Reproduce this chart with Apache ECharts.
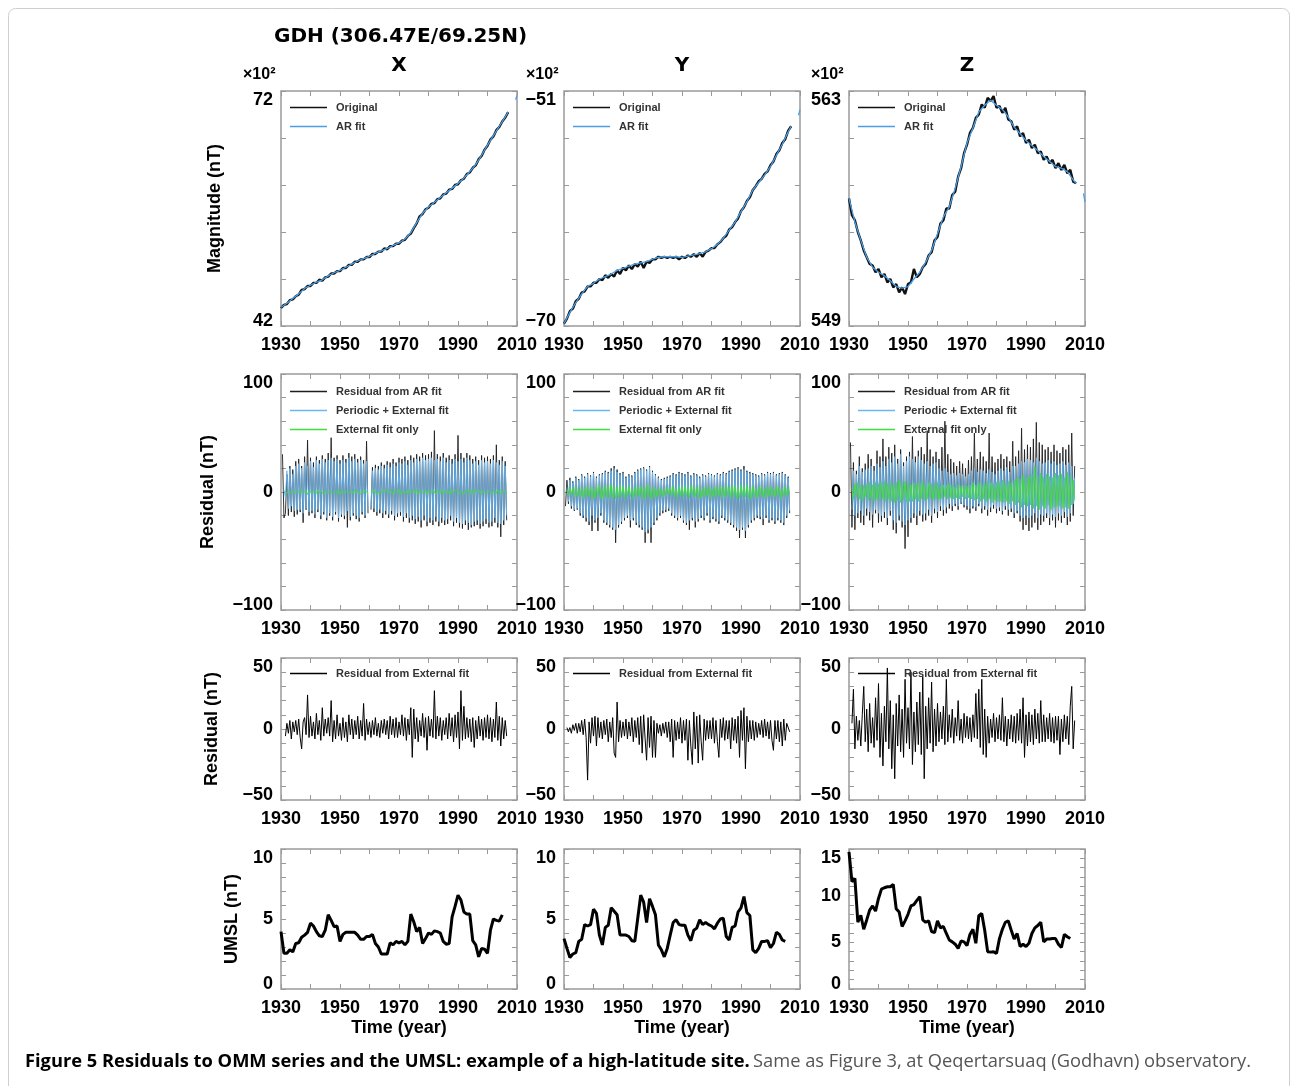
<!DOCTYPE html>
<html><head><meta charset="utf-8">
<script src="https://cdn.jsdelivr.net/npm/echarts@6/dist/echarts.min.js"></script>
<style>html,body{margin:0;padding:0;background:#fff}#c{width:1292px;height:1086px}</style>
</head><body><div id="c"></div>
<script>
// ---------------- DATA ----------------
const xTickLabels = [1930, 1950, 1970, 1990, 2010];

// Row 1: magnitudes (x10^2 nT)
const arYears = [1930,1932,1934,1936,1938,1940,1942,1944,1946,1948,1950,1952,1954,1956,1958,1960,1962,1964,1966,1968,1970,1972,1974,1976,1978,1980,1982,1984,1986,1988,1990,1992,1994,1996,1998,2000,2002,2004,2006,2007,2008,2009.5,2010];
const origX = [44.3,44.7,44.8,45.3,45.4,45.8,46.0,46.6,46.7,47.1, 47.1,47.5,47.5,47.9,47.8,48.2,48.3,48.7,48.7,49.0, 49.0,49.4,49.4,49.8,49.8,50.2,50.2,50.5,50.5,50.8, 50.8,51.2,51.2,51.5,51.5,51.9,51.8,52.2,52.2,52.5, 52.5,52.9,53.0,53.5,53.8,54.5,55.1,56.0,56.3,56.9, 57.1,57.6,57.7,58.2,58.3,58.8,58.9,59.4,59.5,60.0, 60.1,60.6,60.8,61.4,61.6,62.2,62.5,63.3,63.7,64.5, 65.0,65.8,66.2,67.0,67.4,68.1,68.6,69.3];
const arX = [44.4,44.9,45.5,46.1,46.8,47.2,47.6,47.9,48.4,48.8,49.1,49.5,49.9,50.3,50.6,50.9,51.3,51.6,51.9,52.3,52.6,53.1,53.9,55.2,56.4,57.2,57.8,58.4,59.0,59.6,60.2,60.9,61.7,62.6,63.8,65.1,66.3,67.5,68.7,69.3,null,70.9,71.4];
const origY = [-69.8,-69.4,-68.8,-68.6,-68.0,-67.8,-67.3,-67.2,-66.8,-66.8, -66.5,-66.5,-66.2,-66.3,-65.9,-66.1,-65.8,-66.0,-65.5,-65.8, -65.3,-65.5,-65.1,-65.4,-65.0,-65.2,-64.8,-65.3,-64.8,-64.9, -64.6,-64.6,-64.4,-64.5,-64.4,-64.5,-64.4,-64.5,-64.4,-64.6, -64.4,-64.5,-64.3,-64.4,-64.2,-64.4,-64.1,-64.4,-64.0,-63.9, -63.7,-63.7,-63.4,-63.2,-62.9,-62.7,-62.2,-62.0,-61.6,-61.3, -60.7,-60.4,-59.9,-59.6,-59.0,-58.7,-58.3,-58.1,-57.7,-57.5, -57.0,-56.7,-56.1,-55.8,-55.2,-54.9,-54.2,-53.85];
const arY = [-69.8,-68.9,-68.1,-67.4,-66.8,-66.55,-66.2,-66.0,-65.8,-65.5,-65.35,-65.15,-65.0,-64.9,-64.8,-64.6,-64.45,-64.4,-64.4,-64.4,-64.45,-64.35,-64.25,-64.15,-64.0,-63.75,-63.4,-62.9,-62.25,-61.6,-60.75,-59.95,-59.0,-58.4,-57.8,-57.1,-56.2,-55.3,-54.3,-53.85,null,-52.96,-52.5];
const origZ = [556.6,555.6,555.3,554.6,554.1,553.5,553.1,552.7,552.6,552.2, 552.4,551.9,552.1,551.6,551.8,551.3,551.5,551.0,551.3,550.9, 551.5,551.6,552.4,551.9,552.1,552.5,552.7,553.2,553.4,554.1, 554.3,555.1,555.3,556.0,556.0,556.8,557.0,557.9,558.4,559.3, 559.8,560.5,560.8,561.4,561.6,562.2,562.0,562.6,562.4,562.7, 562.0,562.1,561.7,562.0,561.3,561.2,560.7,560.9,560.3,560.5, 559.9,560.1,559.6,559.8,559.3,559.4,558.9,559.1,558.7,558.9, 558.4,558.7,558.3,558.6,558.1,558.3,557.6,557.5];
const arZ = [556.6,555.2,554.1,553.1,552.5,552.2,552.0,551.7,551.35,551.25,551.35,551.8,552.2,552.8,553.5,554.5,555.5,556.1,557.2,558.5,559.9,560.8,561.75,562.15,562.45,562.15,561.9,561.45,560.85,560.45,560.05,559.75,559.45,559.1,558.8,558.5,558.4,558.2,557.7,557.5,null,556.9,556.4];

// Row 2: residuals (nT), half-year samples from 1930.5 to 2006.5
const resX_ar = [32,
 -22,-18,15,-20,22,-17,19,-21,26,-19,
 28,-17,22,-26,30,-15,44,-20,29,-18,
 25,-22,30,-17,27,-23,31,-19,28,-24,
 33,-20,46,-24,29,-19,31,-25,27,-21,
 31,-23,28,-30,33,-24,30,-20,32,-23,
 28,-25,30,-19,27,-22,43,-18,null,-15,
 21,-17,23,-20,22,-18,25,-22,23,-19,
 26,-22,25,-19,28,-24,25,-21,29,-20,
 28,-25,30,-22,27,-26,31,-24,29,-27,
 32,-25,30,-30,33,-24,31,-29,32,-26,
 34,-28,52,-25,32,-29,30,-26,33,-28,
 29,-27,31,-24,28,-29,32,-26,48,-30,
 33,-31,29,-28,33,-32,31,-30,28,-29,
 30,-28,27,-31,31,-29,29,-27,30,-30,
 28,-29,31,-26,40,-30,27,-38,30,-28,
 26,-24];
const resX_per = [null,
 2,-5,18,-14,20,-12,15,-16,22,-15,
 24,-15,20,-18,25,-14,22,-17,26,-16,
 21,-19,27,-15,24,-20,28,-17,25,-22,
 27,-18,29,-21,26,-17,28,-22,24,-19,
 27,-20,25,-16,29,-21,26,-18,28,-20,
 25,-22,27,-17,24,-20,26,-15,null,-12,
 18,-14,20,-17,19,-15,22,-18,20,-16,
 23,-19,21,-16,24,-20,22,-18,25,-17,
 24,-21,26,-18,23,-22,27,-20,25,-23,
 28,-21,26,-24,29,-20,27,-25,28,-22,
 29,-24,27,-21,28,-25,26,-22,29,-24,
 25,-23,27,-20,24,-25,28,-22,26,-26,
 28,-27,25,-24,29,-26,27,-28,24,-25,
 26,-24,23,-27,27,-25,25,-23,26,-26,
 24,-25,27,-22,25,-26,23,-27,26,-24,
 22,-20];
const resX_ext = [null,
 0,1,-1,1,0,-1,1,0,-1,1,
 1,-1,2,0,-1,1,-2,1,0,-1,
 1,0,-1,2,-1,1,0,-2,1,0,
 -1,1,2,-1,0,1,-1,2,-2,1,
 0,-1,1,2,-1,0,1,-1,2,-1,
 1,0,-2,1,-1,2,0,-1,null,1,
 -1,2,1,-2,0,1,-1,2,0,-1,
 2,-1,1,0,-2,2,1,-1,2,-2,
 1,2,-1,1,-2,2,0,-1,2,-1,
 2,-2,1,2,-1,0,2,-2,1,1,
 -1,2,0,-2,2,1,-1,2,-2,1,
 2,-1,1,-2,2,0,-1,2,1,-2,
 1,2,-2,1,0,2,-1,1,-2,2,
 0,-1,2,1,-2,1,2,-1,0,1,
 2,-2,1,0,-1,2,1,-2,1,0,
 1,-1];
const resY_ar = [-12,
 10,-10,12,-14,9,-16,13,-15,11,-20,
 15,-22,13,-25,16,-28,14,-33,17,-26,
 13,-33,15,-20,16,-26,18,-28,17,-30,
 20,-32,22,-43,19,-30,16,-27,17,-24,
 13,-22,15,-30,14,-24,17,-28,19,-30,
 20,-32,21,-43,19,-35,22,-43,18,-28,
 15,-24,13,-20,11,-18,12,-17,13,-16,
 14,-20,16,-22,15,-24,17,-22,16,-26,
 15,-28,17,-32,14,-24,16,-30,15,-25,
 13,-22,15,-24,14,-20,16,-26,15,-23,
 14,-25,16,-27,15,-22,17,-24,16,-26,
 18,-28,19,-30,20,-33,21,-39,19,-32,
 22,-39,18,-30,17,-26,16,-24,15,-22,
 14,-23,16,-28,15,-22,17,-26,16,-24,
 17,-27,15,-24,16,-26,17,-28,15,-22,
 13,-18];
const resY_per = [null,
 4,-8,10,-12,8,-15,12,-14,10,-18,
 14,-20,12,-22,15,-25,13,-20,16,-24,
 12,-22,14,-18,15,-24,17,-26,16,-28,
 18,-30,20,-32,17,-28,15,-25,16,-22,
 12,-20,14,-24,13,-22,16,-26,18,-28,
 19,-30,20,-34,18,-32,21,-30,17,-26,
 14,-22,12,-18,10,-16,11,-15,12,-14,
 13,-18,15,-20,14,-22,16,-20,15,-24,
 14,-26,16,-24,13,-22,15,-25,14,-23,
 12,-20,14,-22,13,-18,15,-24,14,-21,
 13,-23,15,-25,14,-20,16,-22,15,-24,
 17,-26,18,-28,19,-30,20,-32,18,-30,
 19,-33,17,-28,16,-24,15,-22,14,-20,
 13,-21,15,-23,14,-20,16,-24,15,-22,
 16,-25,14,-22,15,-24,16,-26,14,-20,
 12,-16];
const resY_ext = [null,
 2,-3,4,-2,3,-4,5,-3,2,-4,
 4,-5,3,-4,5,-3,4,-6,3,-5,
 5,-4,6,-5,4,-6,5,-4,6,-5,
 6,-5,5,-6,4,-5,6,-4,5,-6,
 4,-3,5,-4,3,-5,4,-4,5,-3,
 5,-6,4,-5,6,-4,5,-6,4,-5,
 3,-4,4,-3,2,-4,3,-3,4,-2,
 4,-3,5,-4,3,-5,4,-3,5,-4,
 5,-4,4,-5,6,-3,5,-4,4,-5,
 4,-5,3,-4,5,-3,4,-5,3,-4,
 5,-4,4,-3,5,-5,4,-4,6,-3,
 4,-5,6,-4,5,-6,4,-5,6,-4,
 5,-4,6,-5,4,-6,5,-4,3,-5,
 4,-3,5,-4,3,-5,4,-3,5,-4,
 3,-4,5,-3,4,-5,3,-4,5,-3,
 3,-2];
const resZ_ar = [42,
 -30,25,-32,18,-22,30,-26,20,-28,24,
 -20,32,-24,28,-30,22,-18,35,-26,30,
 -25,45,-22,30,-28,38,-20,33,-32,40,
 -35,28,-24,36,-30,25,-48,30,-38,34,
 -26,47,-22,30,-28,35,-20,38,-25,32,
 -24,52,-20,36,-26,30,-18,34,-22,28,
 -16,38,-20,60,-18,32,-14,28,-16,25,
 -12,22,-15,26,-10,24,-13,20,-15,27,
 -18,30,-14,50,-16,28,-12,34,-18,30,
 -15,26,-20,50,-17,30,-14,25,-18,28,
 -16,32,-19,28,-15,30,-20,26,-17,43,
 -22,30,-18,35,-25,54,-32,36,-28,40,
 -33,38,-30,45,-26,59,-32,42,-28,40,
 -25,36,-22,38,-28,34,-24,40,-30,35,
 -24,33,-26,38,-22,36,-28,40,-25,50,
 -20,22];
const resZ_per = [null,
 -15,18,-20,15,-18,22,-16,17,-20,19,
 -14,20,-17,22,-19,18,-15,24,-18,21,
 -20,26,-17,22,-22,28,-16,25,-24,30,
 -26,24,-20,32,-25,22,-28,26,-24,30,
 -22,28,-18,25,-20,30,-16,27,-19,24,
 -18,26,-15,22,-20,24,-14,25,-17,20,
 -12,18,-15,20,-13,17,-10,15,-12,16,
 -10,14,-12,16,-9,15,-11,13,-12,15,
 -14,18,-12,20,-13,17,-10,19,-14,18,
 -12,16,-15,19,-13,17,-11,15,-14,18,
 -13,20,-16,18,-12,21,-15,17,-14,22,
 -18,22,-16,24,-20,26,-22,25,-20,28,
 -22,27,-20,25,-18,29,-22,26,-19,24,
 -20,25,-18,27,-22,24,-19,26,-21,23,
 -18,24,-20,26,-17,23,-21,25,-18,22,
 -10,12];
const resZ_ext = [null,
 4,-6,7,-4,8,-6,5,-8,6,-4,
 6,-7,8,-5,6,-8,8,-6,7,-6,
 8,-6,9,-8,7,-6,8,-8,6,-9,
 8,-7,10,-9,8,-6,9,-8,7,-8,
 6,-8,8,-6,7,-8,8,-6,9,-7,
 6,-6,8,-5,7,-7,6,-6,8,-6,
 5,-6,6,-4,6,-6,7,-5,6,-6,
 4,-5,6,-6,5,-4,6,-6,5,-5,
 6,-6,8,-7,6,-6,8,-8,7,-6,
 7,-8,9,-6,8,-9,6,-7,8,-8,
 8,-8,10,-9,7,-8,9,-10,8,-8,
 10,-11,12,-9,11,-13,14,-11,12,-12,
 13,-11,15,-14,22,-12,14,-15,16,-12,
 12,-14,15,-11,13,-15,12,-13,16,-12,
 14,-12,15,-14,12,-13,17,-14,14,-11,
 10,-7];

// Row 3: residual from external fit (nT)
const extResX = [null,
 null,-5,4,-3,6,-7,5,-2,6,-4,
 7,-6,-14,5,8,-4,24,-6,9,-5,
 5,-7,11,-4,6,-8,15,-5,7,-3,
 8,-5,20,-9,6,-7,10,-5,4,-8,
 8,-6,5,-9,10,-4,7,-7,6,-4,
 9,-7,6,-5,18,-8,7,-4,5,-6,
 6,-4,8,-5,4,-6,6,-3,7,-4,
 6,-7,9,-4,7,-6,8,-6,5,-4,
 10,-5,8,-8,7,-4,15,-20,14,-7,
 8,-9,6,-5,11,-6,8,-15,9,-5,
 7,-6,27,-7,9,-5,8,-8,6,-4,
 8,-7,11,-5,8,-9,10,-6,12,-14,
 27,-8,16,-7,8,-6,7,-9,8,-13,
 6,-7,9,-5,7,-8,8,-6,10,-7,
 8,-9,7,-6,19,-8,9,-12,8,-7,
 6,-5];
const extResY = [null,
 1,-2,1,-3,3,-1,4,-3,4,-2,
 6,-4,7,-6,-36,5,-10,8,-5,9,
 -12,8,-6,5,-7,6,-4,7,-9,5,
 -6,8,-17,-20,19,-9,6,-6,5,-5,
 7,-7,5,-5,8,-9,6,-6,8,-11,
 9,-17,10,-7,-22,8,-13,9,-20,6,
 -20,4,-3,3,-5,4,-3,5,-6,5,
 -9,7,-20,6,-8,5,-7,8,-10,6,
 -8,7,-22,6,-12,-25,12,-14,9,-24,
 10,-9,-22,7,-8,6,-7,6,-7,8,
 -10,6,-9,-20,7,-6,8,-8,6,-7,
 6,-14,8,-8,7,-10,9,-20,13,-8,
 15,-28,9,-9,6,-7,6,-8,5,-6,
 4,-4,6,-6,7,-5,5,-7,6,-8,
 -15,6,-7,6,-9,5,-12,7,-8,4,
 3,-2];
const extResZ = [null,
 4,28,-14,9,-8,6,-12,10,30,-9,
 14,-16,18,-10,8,-13,22,-8,32,-20,
 11,-26,16,-9,43,-14,20,-28,10,-35,
 18,-12,24,-16,14,-20,35,-10,15,-14,
 40,-25,12,-16,19,-11,26,-18,37,-35,
 16,-14,22,-10,33,-16,14,-12,18,-9,
 12,-7,16,-11,35,-9,10,-6,14,-10,
 8,-5,20,-8,7,-10,11,-6,9,-7,
 8,-9,10,-6,25,-7,28,-13,35,-18,
 14,-20,9,-10,7,-6,11,-9,8,-7,
 10,-8,22,-9,9,-12,7,-7,10,-9,
 9,-10,11,-8,14,-10,22,-20,10,-12,
 12,-9,10,-11,14,-7,11,-10,20,-9,
 10,-9,8,-7,11,-9,8,-10,9,-8,
 9,-18,7,-9,10,-7,9,-11,16,30,
 -14,6];

// Row 4: UMSL (nT), yearly 1930-2005
const umslX = [4.1,2.55,2.55,2.8,2.65,3.25,3.3,3.7,3.85,4.05, 4.7,4.5,4.1,3.8,3.75,4.2,5.3,4.9,4.45,4.5, 3.4,3.9,4.05,4.05,4.05,4.05,3.85,3.55,3.55,3.75, 3.75,3.9,3.25,3.0,2.5,2.5,2.5,3.3,3.15,3.4, 3.3,3.4,3.15,3.4,5.35,4.8,4.1,4.4,3.25,3.6, 4.0,3.9,4.15,4.1,4.0,3.4,3.2,3.25,5.15,5.9, 6.7,6.35,5.5,5.35,5.35,3.45,3.15,2.3,2.9,2.85, 2.55,4.2,5.0,4.9,4.85,5.3];
const umslY = [3.6,2.9,2.25,2.5,2.6,3.4,3.55,4.6,4.5,4.6, 5.7,5.4,3.85,3.15,4.4,4.55,5.8,5.55,5.3,3.85, 3.85,3.85,3.75,3.45,3.4,5.05,6.7,6.2,4.75,6.45, 5.9,5.3,3.15,2.8,2.3,2.9,3.85,4.75,4.95,4.6, 4.55,4.55,3.85,3.45,4.2,4.35,4.95,4.6,4.75,4.6, 4.5,4.3,4.7,5.0,5.05,3.75,3.5,4.4,4.5,5.5, 5.8,6.6,5.45,5.25,2.8,2.6,2.9,3.4,3.4,3.45, 2.95,3.25,4.05,3.9,3.5,3.4];
const umslZ = [14.7,11.5,11.85,7.15,7.9,6.4,7.4,8.45,8.9,8.35, 9.7,10.7,10.85,10.95,10.95,11.2,8.6,8.25,6.7,7.3, 8.0,8.9,9.05,9.5,9.9,7.4,7.15,7.3,6.15,6.05, 7.3,6.55,6.7,5.95,5.25,5.05,4.8,4.35,5.15,5.05, 4.65,5.85,6.4,4.9,7.85,8.1,6.3,4.0,3.95,4.0, 3.8,5.4,6.4,7.15,7.3,6.3,5.35,5.95,4.55,4.8, 4.55,4.9,5.95,6.55,6.8,7.15,5.05,5.35,5.35,5.4, 5.4,4.8,4.45,5.85,5.6,5.4];

const resYears = Array.from({length: 153}, (_, i) => 1930.5 + 0.5 * i);
const origYears = Array.from({length: 78}, (_, i) => 1930 + i);
const umslYears = Array.from({length: 76}, (_, i) => 1930 + i);

[['origX',origX,78],['origY',origY,78],['origZ',origZ,78],['arX',arX,43],['arY',arY,43],['arZ',arZ,43],
 ['resX_ar',resX_ar,153],['resX_per',resX_per,153],['resX_ext',resX_ext,153],
 ['resY_ar',resY_ar,153],['resY_per',resY_per,153],['resY_ext',resY_ext,153],
 ['resZ_ar',resZ_ar,153],['resZ_per',resZ_per,153],['resZ_ext',resZ_ext,153],
 ['extResX',extResX,153],['extResY',extResY,153],['extResZ',extResZ,153],
 ['umslX',umslX,76],['umslY',umslY,76],['umslZ',umslZ,76]].forEach(([n,a,l]) => {
  if (a.length !== l) throw new Error(n + ' has length ' + a.length + ' expected ' + l);
});

// ---------------- LAYOUT ----------------
const COL_LEFT = [281, 564, 849];
const PLOT_W = 236;
const ROW_TOP = [91, 374, 658, 849];
const ROW_H = [235, 236, 142, 140];
const SANS = '"Liberation Sans", Arial, sans-serif';
const TITLE_FONT = '"DejaVu Sans", sans-serif';

const C_BLACK = '#111111';
const C_BLUE_AR = '#4a9fe6';
const C_BLUE = '#68b6f2';
const C_GREEN = '#3fdf3f';

const grids = [], xAxes = [], yAxes = [], series = [], legends = [], graphics = [];
const TICK = {show: true, inside: true, length: 5, lineStyle: {color: '#9a9a9a', width: 1}};
const LABEL = {fontFamily: SANS, fontWeight: 'bold', fontSize: 18, color: '#000'};

function fmt(v) { const r = Math.round(v * 1000) / 1000; return r < 0 ? '\u2212' + String(Math.abs(r)) : String(r); }
function pick(list) { return v => list.some(l => Math.abs(l - v) < 1e-6) ? fmt(v) : ''; }
function pickY(list, min) {
  return v => {
    if (!list.some(l => Math.abs(l - v) < 1e-6)) return '';
    return Math.abs(v - min) < 1e-6 ? '{lo|' + fmt(v) + '}' : fmt(v);
  };
}

function panel(r, c, y) {
  const gi = grids.length;
  grids.push({left: COL_LEFT[c], top: ROW_TOP[r], width: PLOT_W, height: ROW_H[r], show: true,
    borderColor: '#9a9a9a', borderWidth: 1.5, backgroundColor: 'rgba(0,0,0,0)', containLabel: false, outerBoundsMode: 'none'});
  const xi = xAxes.length;
  xAxes.push({gridIndex: gi, type: 'value', position: 'bottom', min: 1930, max: 2010, interval: 10,
    axisLine: {show: false, onZero: false}, axisTick: TICK, splitLine: {show: false},
    axisLabel: Object.assign({}, LABEL, {margin: 10, showMinLabel: true, showMaxLabel: true, formatter: pick(xTickLabels)})});
  xAxes.push({gridIndex: gi, type: 'value', position: 'top', min: 1930, max: 2010, interval: 10,
    axisLine: {show: false, onZero: false}, axisTick: TICK, splitLine: {show: false}, axisLabel: {show: false}});
  const yi = yAxes.length;
  const separateTicks = y.interval == null;
  yAxes.push({gridIndex: gi, type: 'value', position: 'left', min: y.min, max: y.max, interval: y.interval,
    axisLine: {show: false, onZero: false}, axisTick: separateTicks ? {show: false} : TICK, splitLine: {show: false},
    axisLabel: Object.assign({}, LABEL, {margin: 8, showMinLabel: true, showMaxLabel: true,
      verticalAlignMinLabel: 'bottom', verticalAlignMaxLabel: 'top', formatter: pickY(y.labels, y.min),
      rich: {lo: Object.assign({}, LABEL, {lineHeight: 10})}})});
  const tMin = separateTicks ? 0 : y.min, tMax = separateTicks ? 5 : y.max, tInt = separateTicks ? 1 : y.interval;
  yAxes.push({gridIndex: gi, type: 'value', position: 'right', min: tMin, max: tMax, interval: tInt,
    axisLine: {show: false, onZero: false}, axisTick: TICK, splitLine: {show: false}, axisLabel: {show: false}});
  if (separateTicks) {
    yAxes.push({gridIndex: gi, type: 'value', position: 'left', min: 0, max: 5, interval: 1,
      axisLine: {show: false, onZero: false}, axisTick: TICK, splitLine: {show: false}, axisLabel: {show: false}});
  }
  return {xi, yi};
}

function line(name, xs, ys, ax, color, width, z) {
  series.push({type: 'line', name, xAxisIndex: ax.xi, yAxisIndex: ax.yi,
    data: xs.map((x, i) => [x, ys[i]]), showSymbol: false, symbol: 'none', connectNulls: false,
    lineStyle: {color, width}, itemStyle: {color}, z, animation: false, silent: true, clip: true});
}

function legend(c, r, dy, names) {
  legends.push({show: true, left: COL_LEFT[c] + 9, top: ROW_TOP[r] + dy, orient: 'vertical', icon: 'rect',
    itemWidth: 37, itemHeight: 1.5, itemGap: 8, padding: 0, selectedMode: false,
    textStyle: {fontFamily: SANS, fontWeight: 'bold', fontSize: 11, color: '#333', padding: [0, 0, 0, 4]},
    data: names});
}

// Row 1
const r1 = [
  {o: origX, a: arX, min: 42, max: 72},
  {o: origY, a: arY, min: -70, max: -51},
  {o: origZ, a: arZ, min: 549, max: 563}
];
r1.forEach((p, c) => {
  const ax = panel(0, c, {min: p.min, max: p.max, labels: [p.min, p.max]});
  line('Original', origYears, p.o, ax, C_BLACK, 2.4, 2);
  line('AR fit', arYears, p.a, ax, C_BLUE_AR, 1.3, 3);
  legend(c, 0, 11, ['Original', 'AR fit']);
});

// Row 2
const r2 = [[resX_ar, resX_per, resX_ext], [resY_ar, resY_per, resY_ext], [resZ_ar, resZ_per, resZ_ext]];
r2.forEach((p, c) => {
  const ax = panel(1, c, {min: -100, max: 100, interval: 20, labels: [-100, 0, 100]});
  line('Residual from AR fit', resYears, p[0], ax, '#1e1e1e', 0.9, 2);
  line('Periodic + External fit', resYears, p[1], ax, C_BLUE, 0.9, 3);
  line('External fit only', resYears, p[2], ax, C_GREEN, 0.9, 4);
  legend(c, 1, 12, ['Residual from AR fit', 'Periodic + External fit', 'External fit only']);
});

// Row 3
[extResX, extResY, extResZ].forEach((p, c) => {
  const ax = panel(2, c, {min: -50, max: 50, interval: 10, labels: [-50, 0, 50]});
  line('Residual from External fit', resYears, p, ax, '#000', 1, 2);
  legend(c, 2, 10, ['Residual from External fit']);
});

// Row 4
[[umslX, 10, [0, 5, 10]], [umslY, 10, [0, 5, 10]], [umslZ, 15, [0, 5, 10, 15]]].forEach((p, c) => {
  const ax = panel(3, c, {min: 0, max: p[1], interval: 1, labels: p[2]});
  line('UMSL', umslYears, p[0], ax, '#000', 3, 2);
});

// ---------------- TEXT ----------------
function txt(x, y, text, font, opts) {
  graphics.push(Object.assign({type: 'text', x, y, silent: true,
    style: Object.assign({text, font, fill: '#000', align: 'center', verticalAlign: 'middle'}, (opts && opts.style) || {})},
    opts && opts.rotation != null ? {rotation: opts.rotation} : {}));
}
graphics.push({type: 'rect', silent: true, shape: {x: 8.5, y: 8.5, width: 1281, height: 1110, r: 7},
  style: {fill: 'none', stroke: '#cfcfcf', lineWidth: 1}});
txt(274, 37, 'GDH (306.47E/69.25N)', 'bold 20px ' + TITLE_FONT, {style: {align: 'left'}});
['X', 'Y', 'Z'].forEach((t, c) => txt(COL_LEFT[c] + PLOT_W / 2, 66, t, 'bold 20px ' + TITLE_FONT));
COL_LEFT.forEach(l => txt(l - 38, 75, '\u00d710\u00b2', 'bold 16px ' + SANS, {style: {align: 'left'}}));
const ROT = Math.PI / 2;
txt(215, ROW_TOP[0] + ROW_H[0] / 2, 'Magnitude (nT)', 'bold 18px ' + SANS, {rotation: ROT});
txt(208, ROW_TOP[1] + ROW_H[1] / 2, 'Residual (nT)', 'bold 18px ' + SANS, {rotation: ROT});
txt(212, ROW_TOP[2] + ROW_H[2] / 2, 'Residual (nT)', 'bold 18px ' + SANS, {rotation: ROT});
txt(232, ROW_TOP[3] + ROW_H[3] / 2, 'UMSL (nT)', 'bold 18px ' + SANS, {rotation: ROT});
COL_LEFT.forEach(l => txt(l + PLOT_W / 2, 1028, 'Time (year)', 'bold 18px ' + SANS));
graphics.push({type: 'text', x: 25, y: 1062, silent: true, style: {
  text: '{b|Figure 5 Residuals to OMM series and the UMSL: example of a high-latitude site.} {n|Same as Figure 3, at Qeqertarsuaq (Godhavn) observatory.}',
  verticalAlign: 'middle', align: 'left',
  rich: {b: {fontFamily: '"Open Sans", sans-serif', fontWeight: 'bold', fontSize: 18.3, fill: '#000'},
         n: {fontFamily: '"Open Sans", sans-serif', fontWeight: 'normal', fontSize: 18.3, fill: '#555'}}}});

const chart = echarts.init(document.getElementById('c'), null, {renderer: 'canvas'});
chart.setOption({
  animation: false,
  backgroundColor: '#fff',
  textStyle: {fontFamily: SANS},
  grid: grids, xAxis: xAxes, yAxis: yAxes, series, legend: legends, graphic: graphics
});
</script></body></html>
